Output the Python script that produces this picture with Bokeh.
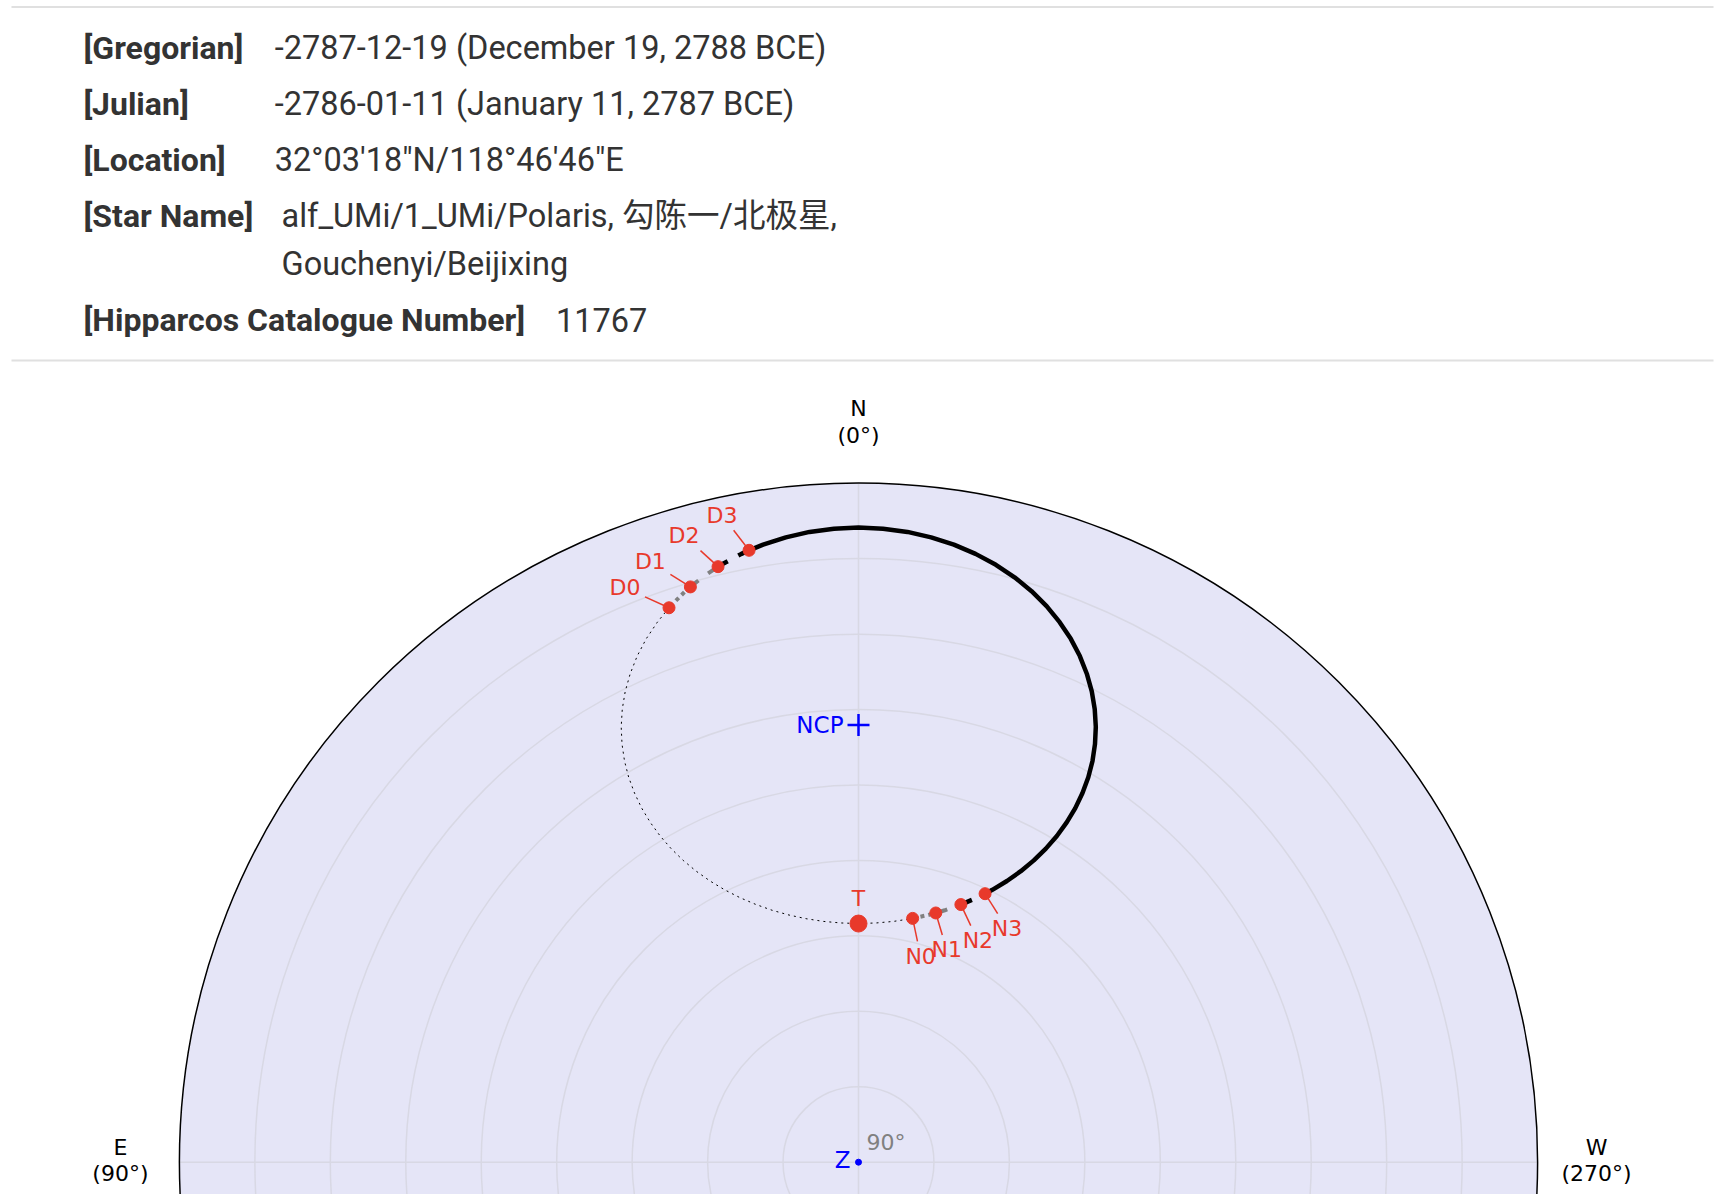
import math
from bokeh.plotting import figure
from bokeh.models import Range1d
from bokeh.embed import file_html
from bokeh.resources import INLINE
from bokeh.core.properties import value

# ---------------- data ----------------
info_labels = ["[Gregorian]", "[Julian]", "[Location]", "[Star Name]", "[Hipparcos Catalogue Number]"]
info_values = [
    "-2787-12-19 (December 19, 2788 BCE)",
    "-2786-01-11 (January 11, 2787 BCE)",
    "32°03'18\"N/118°46'46\"E",
    "alf_UMi/1_UMi/Polaris, 勾陈一/北极星,\nGouchenyi/Beijixing",
    "11767",
]

alt_ticks = [90, 80, 70, 60, 50, 40, 30, 20, 10, 0]
az_ticks = [0, 90, 180, 270]
az_tick_labels = ["N\n(0°)", "E\n(90°)", "S\n(180°)", "W\n(270°)"]
radial_tick_label = "90°"

ncp_alt, ncp_az = 32.055, 0.0
zenith_alt, zenith_az = 90.0, 0.0

# star track (altitude, azimuth in degrees), in time order starting at T
track_alt = [58.37, 58.21, 57.75, 56.99, 56.90, 55.97, 55.42, 54.71, 53.26, 51.58,
             50.66, 49.78, 47.86, 45.84, 43.74, 41.59, 39.40, 37.19, 34.98, 32.78,
             30.59, 28.44, 26.33, 24.28, 22.29, 20.37, 18.54, 16.79, 15.15, 13.63,
             12.21, 10.92, 9.77, 8.76, 7.90, 7.18, 6.63, 6.22, 5.98, 5.90,
             5.98, 6.22, 6.63, 7.18, 7.62, 7.90, 8.76, 8.91, 9.77, 10.57,
             10.92, 12.21, 12.35, 13.63, 15.15, 16.79, 18.54, 20.37, 22.29, 24.28,
             26.33, 28.44, 30.59, 32.78, 34.98, 37.19, 39.40, 41.59, 43.74, 45.84,
             47.86, 49.78, 51.58, 53.23, 54.71, 55.97, 56.99, 57.75, 58.21, 58.37]
track_az = [0.00, 355.80, 351.71, 347.85, 347.48, 344.29, 342.77, 341.09, 338.33, 335.86,
            334.76, 333.83, 332.17, 330.85, 329.85, 329.14, 328.70, 328.50, 328.52, 328.75,
            329.16, 329.75, 330.51, 331.41, 332.46, 333.64, 334.95, 336.38, 337.92, 339.57,
            341.31, 343.14, 345.06, 347.05, 349.11, 351.22, 353.37, 355.56, 357.78, 0.00,
            2.22, 4.44, 6.63, 8.78, 10.14, 10.89, 12.95, 13.27, 14.94, 16.29,
            16.86, 18.69, 18.87, 20.43, 22.08, 23.62, 25.05, 26.36, 27.54, 28.59,
            29.49, 30.25, 30.84, 31.25, 31.48, 31.50, 31.30, 30.86, 30.15, 29.15,
            27.83, 26.17, 24.14, 21.72, 18.91, 15.71, 12.15, 8.29, 4.20, 0.00]
# labelled points: index into the track
track_events = {"T": 0, "N0": 4, "N1": 6, "N2": 8, "N3": 10,
                "D3": 44, "D2": 47, "D1": 49, "D0": 52}

# phase of the track that follows each labelled point
phase_after = {"T": "day", "N0": "civil", "N1": "nautical", "N2": "astro", "N3": "night",
               "D3": "astro", "D2": "nautical", "D1": "civil", "D0": "day"}

# ---------------- layout / style ----------------
W, H = 1720, 1194
CX, CY, R = 858.0, 1161.7, 679.1
K = R / 90.0

RED = "#e8392b"
BG = "#e5e5f7"
GRID = "#d8d8e4"
CHART_FONT = value("DejaVu Sans")
HEAD_FONT = value("Roboto, 'Noto Sans CJK SC', sans-serif")

styles = {
    "day": dict(line_color="black", line_width=1, line_dash="2 4"),
    "civil": dict(line_color="#808080", line_width=4, line_dash="4 4"),
    "nautical": dict(line_color="#808080", line_width=4, line_dash="12 12"),
    "astro": dict(line_color="black", line_width=4.5, line_dash="12 12"),
    "night": dict(line_color="black", line_width=4.5, line_dash="solid"),
}

# label offsets (screen px) from each event marker
label_offsets = {"D0": (-44, -20), "D1": (-40, -25), "D2": (-34, -31), "D3": (-27, -35),
                 "N0": (8, 38), "N1": (11, 37), "N2": (17, 36), "N3": (22, 35), "T": (0, -25)}


def polar(alt, az):
    r = (90.0 - alt) * K
    a = math.radians(az)
    return CX - r * math.sin(a), CY - r * math.cos(a)


p = figure(width=W, height=H, x_range=Range1d(0, W), y_range=Range1d(H, 0),
           output_backend="svg", toolbar_location=None, min_border=0,
           x_axis_location=None, y_axis_location=None,
           background_fill_color="white", border_fill_color="white",
           outline_line_color=None)
p.grid.visible = False

# ---- header ----
row_y = [47.5, 103.4, 159.3, 215.3, 319.5]
value_x = [274.3, 274.3, 274.3, 281.0, 555.5]
p.segment(x0=[11, 11], y0=[6.5, 360], x1=[1713, 1713], y1=[6.5, 360],
          line_color="#e0e0e0", line_width=2)
p.text(x=[83] * len(info_labels), y=row_y, text=info_labels,
       text_font=HEAD_FONT, text_font_size="32px", text_font_style="bold",
       text_color="#333333", text_align="left", text_baseline="middle")
for i, v in enumerate(info_values):
    for j, line in enumerate(v.split("\n")):
        p.text(x=[value_x[i]], y=[row_y[i] + j * 48.2], text=[line],
               text_font=HEAD_FONT, text_font_size="32.5px",
               text_color="#333333", text_align="left", text_baseline="middle")

# ---- polar frame ----
p.circle(x=[CX], y=[CY], radius=R, fill_color=BG, line_color=None)
grid_r = [(90 - a) * K for a in alt_ticks if 0 < a < 90]
p.circle(x=[CX] * len(grid_r), y=[CY] * len(grid_r), radius=grid_r,
         fill_color=None, line_color=GRID, line_width=1.5)
gx = [polar(0, a)[0] for a in az_ticks]
gy = [polar(0, a)[1] for a in az_ticks]
p.segment(x0=[CX] * len(gx), y0=[CY] * len(gy), x1=gx, y1=gy,
          line_color=GRID, line_width=1.5)
p.circle(x=[CX], y=[CY], radius=R, fill_color=None, line_color="black", line_width=1.5)

# angular tick labels (only those inside the visible page)
for a, lab in zip(az_ticks, az_tick_labels):
    r = R + 59
    t = math.radians(a)
    lx, ly = CX - r * math.sin(t), CY - r * math.cos(t) - 2
    lines = lab.split("\n")
    if ly - 30 > H:
        continue
    for j, line in enumerate(lines):
        p.text(x=[lx], y=[ly + (j - (len(lines) - 1) / 2) * 26.4], text=[line],
               text_font=CHART_FONT, text_font_size="22px", text_color="black",
               text_align="center", text_baseline="middle")

# radial tick label at zenith
zx, zy = polar(zenith_alt, zenith_az)
p.text(x=[zx], y=[zy], text=[radial_tick_label], x_offset=8, y_offset=-20,
       text_font=CHART_FONT, text_font_size="22px", text_color="#808080",
       text_align="left", text_baseline="middle")

# ---- star track ----
pts = [polar(a, z) for a, z in zip(track_alt, track_az)]
ev_sorted = sorted(track_events.items(), key=lambda kv: kv[1])
bounds = [i for _, i in ev_sorted] + [len(pts) - 1]
for (tag, i0), i1 in zip(ev_sorted, bounds[1:]):
    st = styles[phase_after[tag]]
    xs = [pts[i][0] for i in range(i0, i1 + 1)]
    ys = [pts[i][1] for i in range(i0, i1 + 1)]
    p.line(xs, ys, line_join="round", **st)

# leader lines, markers, labels
lx0, ly0, lx1, ly1 = [], [], [], []
for tag, i in ev_sorted:
    if tag == "T":
        continue
    x, y = pts[i]
    ox, oy = label_offsets[tag]
    d = math.hypot(ox, oy)
    ux, uy = ox / d, oy / d
    t = min(20 / abs(ux) if ux else 1e9, 15 / abs(uy) if uy else 1e9)
    lx0.append(x); ly0.append(y)
    lx1.append(x + ox - ux * t); ly1.append(y + oy - uy * t)
p.segment(x0=lx0, y0=ly0, x1=lx1, y1=ly1, line_color=RED, line_width=1.5)

ex = [pts[i][0] for tag, i in ev_sorted if tag != "T"]
ey = [pts[i][1] for tag, i in ev_sorted if tag != "T"]
p.scatter(ex, ey, size=12, fill_color=RED, line_color=RED)
tx, ty = pts[track_events["T"]]
p.scatter([tx], [ty], size=17, fill_color=RED, line_color=RED)

for tag, i in ev_sorted:
    x, y = pts[i]
    ox, oy = label_offsets[tag]
    p.text(x=[x], y=[y], text=[tag], x_offset=ox, y_offset=oy,
           text_font=CHART_FONT, text_font_size="22px", text_color=RED,
           text_align="center", text_baseline="middle")

# ---- NCP and zenith ----
nx, ny = polar(ncp_alt, ncp_az)
p.scatter([nx], [ny], marker="cross", size=22, line_color="blue", line_width=2.5)
p.text(x=[nx], y=[ny], text=["NCP"], x_offset=-15, y_offset=0,
       text_font=CHART_FONT, text_font_size="23px", text_color="blue",
       text_align="right", text_baseline="middle")
p.scatter([zx], [zy], size=6, fill_color="blue", line_color="blue")
p.text(x=[zx], y=[zy], text=["Z"], x_offset=-8, y_offset=-2,
       text_font=CHART_FONT, text_font_size="23px", text_color="blue",
       text_align="right", text_baseline="middle")

open("out.html", "w").write(file_html(p, INLINE))
